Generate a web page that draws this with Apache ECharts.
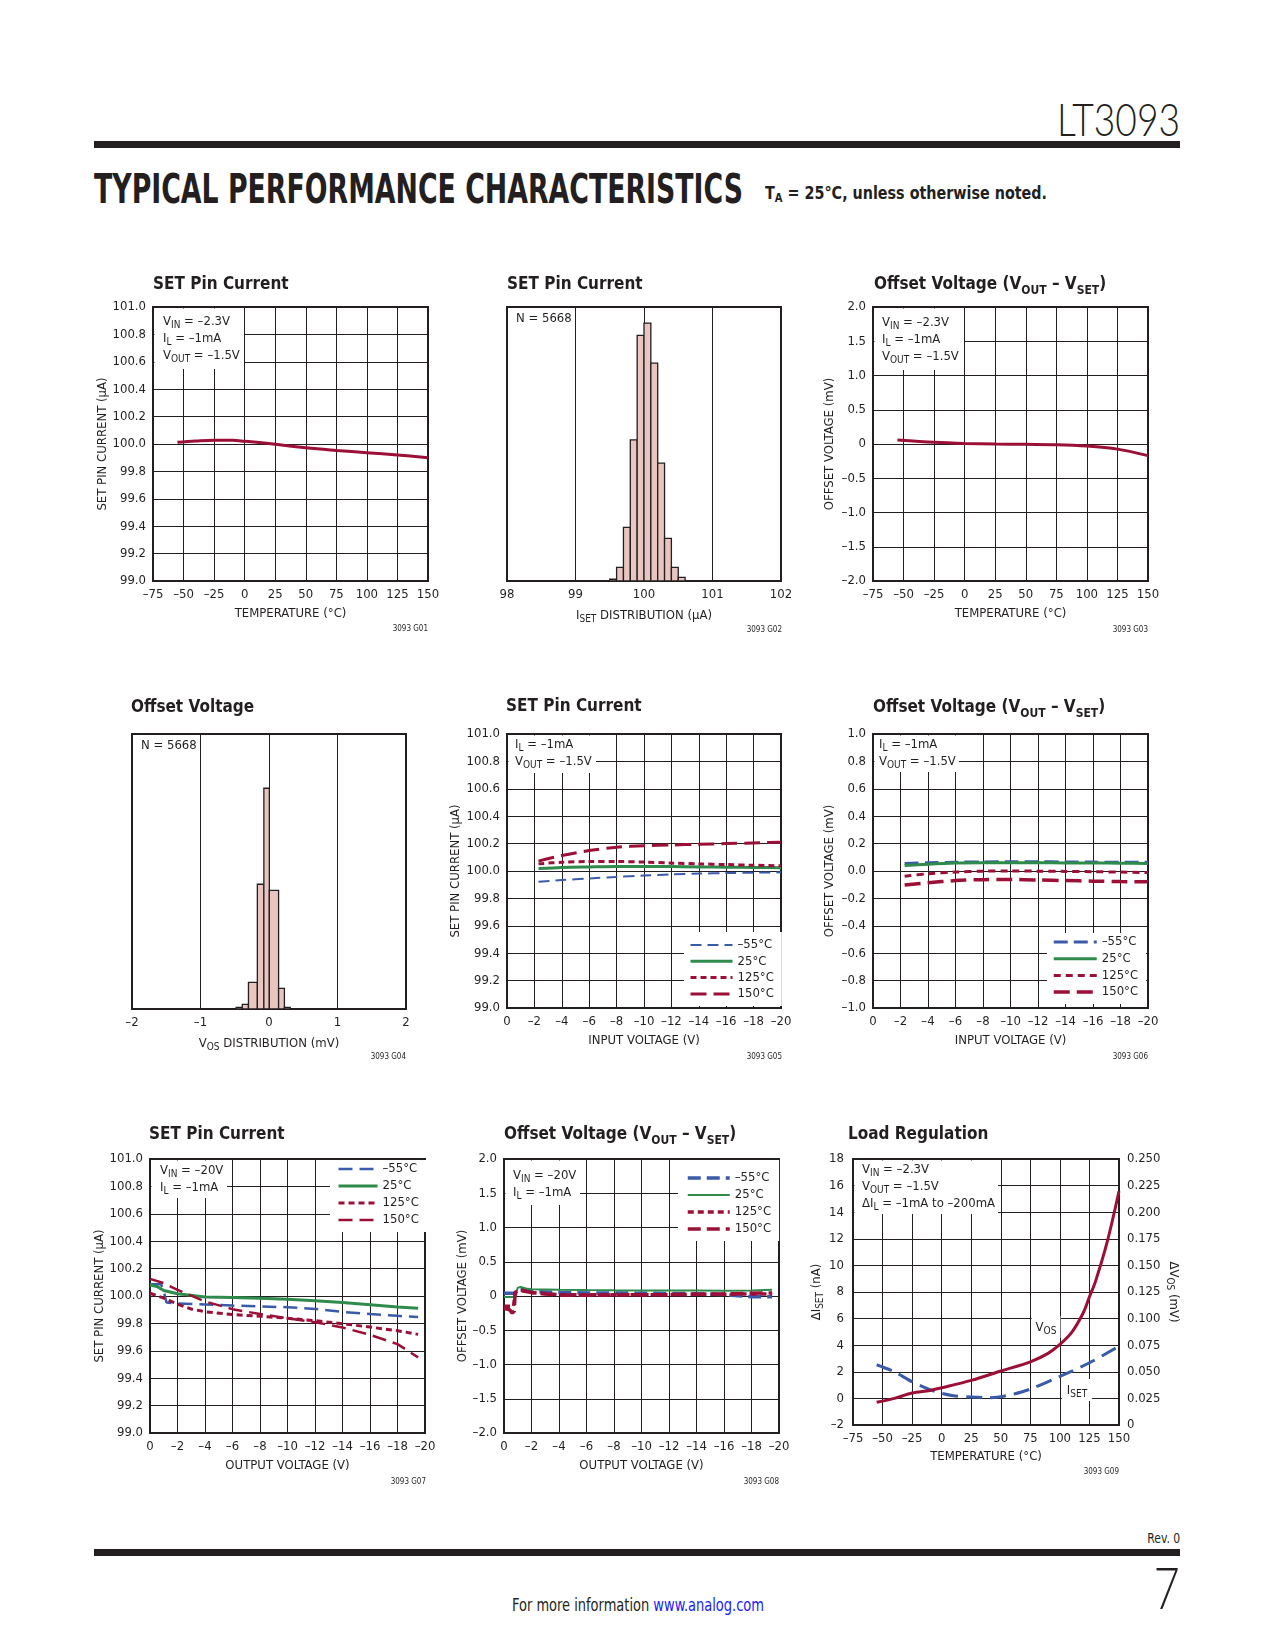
<!DOCTYPE html>
<html><head><meta charset="utf-8">
<script src="https://cdn.jsdelivr.net/npm/echarts@6/dist/echarts.min.js"></script>
<style>
html,body{margin:0;padding:0;background:#fff;}
#page{position:relative;width:1275px;height:1650px;overflow:hidden;background:#fff;}
#chart{position:absolute;left:0;top:0;width:1275px;height:1650px;}
.t{position:absolute;white-space:nowrap;color:#231f20;line-height:1;font-family:'Liberation Sans Narrow','DejaVu Sans Condensed','Liberation Sans',sans-serif;transform-origin:0 0;}
.r{transform-origin:100% 0;}
.thin{font-family:'Lato','Open Sans','Liberation Sans',sans-serif;font-weight:300;}
.bar{position:absolute;background:#231f20;}
sub{font-size:70%;vertical-align:-0.25em;line-height:0;}
</style></head>
<body><div id="page">
<div class="t r thin" style="right:95px;top:96px;font-size:46px;" data-w="123">LT3093</div>
<div class="bar" style="left:94px;top:141px;width:1086px;height:7px;"></div>
<div class="t" style="left:94px;top:169px;font-size:40px;font-weight:bold;font-family:'DejaVu Sans Condensed','DejaVu Sans',sans-serif;" data-w="649">TYPICAL PERFORMANCE CHARACTERISTICS</div>
<div class="t" style="left:765px;top:184px;font-size:18px;font-weight:bold;" data-w="282">T<sub>A</sub> = 25°C, unless otherwise noted.</div>
<div class="t r" style="right:95px;top:1531px;font-size:14px;" data-w="33">Rev. 0</div>
<div class="bar" style="left:94px;top:1549px;width:1086px;height:7px;"></div>
<div class="t r thin" style="right:95px;top:1558px;font-size:58px;" data-w="26">7</div>
<div class="t" style="left:512px;top:1597px;font-size:17px;" data-w="252">For more information <span style="color:#1a1aff">www.analog.com</span></div>
<div id="chart"></div>
</div>
<script>
// ================= DATA =================
// G01 SET pin current vs temperature
const g1Temp = [-55, -40, -25, -10, 0, 25, 50, 75, 100, 125, 150];
const g1Iset = [100.012, 100.022, 100.028, 100.027, 100.02, 99.998, 99.972, 99.953, 99.937, 99.92, 99.9];
// G02 ISET distribution histogram
const g2BinLo = [99.5, 99.6, 99.7, 99.8, 99.9, 100.0, 100.1, 100.2, 100.3, 100.4, 100.5];
const g2BinHi = [99.6, 99.7, 99.8, 99.9, 100.0, 100.1, 100.2, 100.3, 100.4, 100.5, 100.6];
const g2Count = [9, 70, 274, 721, 1255, 1318, 1113, 602, 218, 70, 19];
// G03 offset voltage vs temperature
const g3Temp = [-55, -25, 0, 25, 50, 75, 100, 125, 150];
const g3Vos = [0.06, 0.025, 0.008, 0.0, -0.005, -0.01, -0.03, -0.075, -0.17];
// G04 VOS distribution histogram
const g4BinLo = [-0.48, -0.39, -0.30, -0.17, -0.075, 0.005, 0.14, 0.225];
const g4BinHi = [-0.39, -0.30, -0.17, -0.075, 0.005, 0.14, 0.225, 0.31];
const g4Count = [18, 51, 291, 1361, 2408, 1295, 226, 18];
// G05 SET pin current vs input voltage
const g5Vin = [-2.3, -4, -6, -8, -10, -12, -14, -16, -18, -20];
const g5M55 = [99.921, 99.934, 99.945, 99.957, 99.967, 99.975, 99.981, 99.985, 99.988, 99.99];
const g5T25 = [100.018, 100.026, 100.03, 100.033, 100.033, 100.032, 100.03, 100.028, 100.026, 100.023];
const g5T125 = [100.052, 100.064, 100.069, 100.069, 100.065, 100.058, 100.052, 100.047, 100.042, 100.038];
const g5T150 = [100.072, 100.113, 100.149, 100.174, 100.184, 100.19, 100.195, 100.2, 100.205, 100.21];
// G06 offset voltage vs input voltage
const g6Vin = [-2.3, -4, -6, -8, -10, -12, -14, -16, -18, -20];
const g6M55 = [0.055, 0.06, 0.064, 0.066, 0.067, 0.067, 0.066, 0.065, 0.064, 0.064];
const g6T25 = [0.04, 0.05, 0.058, 0.06, 0.06, 0.06, 0.059, 0.058, 0.057, 0.055];
const g6T125 = [-0.038, -0.02, -0.008, -0.001, 0.0, -0.001, -0.003, -0.005, -0.008, -0.011];
const g6T150 = [-0.103, -0.086, -0.07, -0.063, -0.062, -0.066, -0.07, -0.074, -0.077, -0.079];
// G07 SET pin current vs output voltage
const g7VoutM55 = [0, -0.8, -1.0, -1.2, -2, -4, -6, -8, -10, -12, -14, -16, -18, -19.5];
const g7M55 = [100.086, 100.086, 100.033, 99.953, 99.945, 99.938, 99.93, 99.924, 99.918, 99.905, 99.884, 99.868, 99.855, 99.846];
const g7Vout25 = [0, -0.5, -1, -2, -4, -6, -8, -10, -12, -14, -16, -18, -19.5];
const g7T25 = [100.08, 100.07, 100.04, 100.016, 99.992, 99.989, 99.984, 99.977, 99.965, 99.953, 99.937, 99.92, 99.911];
const g7Vout125 = [0, -1, -2, -3, -4, -6, -8, -10, -12, -14, -16, -18, -19.5];
const g7T125 = [100.02, 99.985, 99.94, 99.905, 99.885, 99.865, 99.852, 99.838, 99.82, 99.798, 99.773, 99.747, 99.72];
const g7Vout150 = [0, -1, -2, -4, -6, -8, -10, -12, -14, -16, -18, -19.5];
const g7T150 = [100.125, 100.094, 100.045, 99.96, 99.904, 99.868, 99.838, 99.809, 99.77, 99.717, 99.649, 99.552];
// G08 offset voltage vs output voltage
const g8VoutM55 = [0, -0.8, -1.0, -1.2, -2, -4, -6, -8, -10, -12, -14, -16, -17, -18, -19.5];
const g8M55 = [0.04, 0.04, 0.1, 0.11, 0.065, 0.05, 0.045, 0.045, 0.04, 0.038, 0.033, 0.02, 0.005, -0.01, -0.01];
const g8Vout25 = [0, -0.8, -1.0, -1.2, -1.6, -2, -4, -6, -8, -10, -12, -14, -16, -18, -19.5];
const g8T25 = [-0.015, -0.015, 0.12, 0.13, 0.11, 0.1, 0.09, 0.086, 0.083, 0.082, 0.08, 0.079, 0.078, 0.082, 0.09];
const g8Vout125 = [0, -0.7, -0.8, -1.2, -2, -4, -6, -8, -10, -12, -14, -16, -18, -19.5];
const g8T125 = [-0.15, -0.15, 0.05, 0.09, 0.05, 0.02, 0.02, 0.02, 0.02, 0.02, 0.025, 0.025, 0.03, 0.03];
const g8Vout150 = [0, -0.4, -0.6, -0.75, -0.8, -1.2, -2, -4, -6, -8, -10, -12, -14, -16, -18, -19.5];
const g8T150 = [-0.18, -0.2, -0.25, -0.22, 0.03, 0.08, 0.05, 0.01, 0.01, 0.015, 0.02, 0.02, 0.025, 0.03, 0.04, 0.045];
// G09 load regulation
const g9TempIset = [-55, -40, -25, -10, 0, 10, 25, 40, 50, 60, 75, 100, 125, 150];
const g9Iset = [2.53, 2.0, 1.25, 0.65, 0.38, 0.2, 0.1, 0.05, 0.13, 0.3, 0.7, 1.65, 2.68, 3.93];
const g9TempVos = [-55, -40, -25, -10, 0, 25, 50, 75, 90, 100, 110, 120, 125, 130, 140, 150];
const g9Vos = [0.0213, 0.025, 0.03, 0.0325, 0.035, 0.0419, 0.0507, 0.0594, 0.0673, 0.0757, 0.087, 0.106, 0.1205, 0.1345, 0.172, 0.2197];
// legend labels
const tempLabels = ['\u201355°C', '25°C', '125°C', '150°C'];

// ================= STYLE =================
const FONT = "'Liberation Sans Narrow','DejaVu Sans Condensed','Liberation Sans',sans-serif";
const INK = '#231f20';
const RED = '#9c0f37', BLUE = '#3a5ba9', GREEN = '#2e8b4b', PINK = '#e8c5bf';
const LBL = 13, NAME = 13;
const RICH = {
  a: {fontSize: 13, fontFamily: FONT, color: INK, fill: INK, lineHeight: 17},
  s: {fontSize: 10, fontFamily: FONT, color: INK, fill: INK, lineHeight: 9, verticalAlign: 'bottom'}
};
const TRICH = {
  a: {fontSize: 17, fontFamily: FONT, fontWeight: 'bold', color: INK, lineHeight: 24},
  s: {fontSize: 12, fontFamily: FONT, fontWeight: 'bold', color: INK, lineHeight: 13, verticalAlign: 'bottom'}
};
const pts = (xs, ys) => xs.map((x, i) => [x, ys[i]]);
const sgn = (v, s) => (v < 0 ? '\u2013' : '') + s;
const fInt = v => Math.abs(v) < 1e-9 ? '0' : sgn(v, String(Math.round(Math.abs(v))));
const fFix = (d, zeroPlain) => v => Math.abs(v) < 1e-9 ? (zeroPlain ? '0' : (0).toFixed(d)) : sgn(v, Math.abs(v).toFixed(d));

function lbl(fmt, margin) {
  return {color: INK, fontFamily: FONT, fontSize: LBL, margin: margin || 7, formatter: fmt, showMinLabel: true, showMaxLabel: true, hideOverlap: false};
}
function ax(gridIndex, min, max, interval, fmt, name, nameGap, more) {
  return Object.assign({
    type: 'value', gridIndex, min, max, interval,
    axisLine: {show: false}, axisTick: {show: false},
    splitLine: {show: true, lineStyle: {color: INK, width: 1}},
    axisLabel: lbl(fmt),
    name, nameLocation: 'middle', nameGap,
    nameTextStyle: {color: INK, fontFamily: FONT, fontSize: NAME, rich: RICH}
  }, more || {});
}

const gridBase = {show: true, borderColor: INK, borderWidth: 2, backgroundColor: 'transparent'};
const grids = [
  {left: 153, top: 307, width: 275, height: 274},
  {left: 507, top: 307, width: 274, height: 274},
  {left: 873, top: 307, width: 275, height: 274},
  {left: 132, top: 734, width: 274, height: 275},
  {left: 507, top: 734, width: 274, height: 274},
  {left: 873, top: 734, width: 275, height: 274},
  {left: 150, top: 1159, width: 275, height: 274},
  {left: 504, top: 1159, width: 275, height: 274},
  {left: 853, top: 1159, width: 266, height: 266}
].map(g => Object.assign({}, gridBase, g));

const titles = [
  [153, 273, '{a|SET Pin Current}'],
  [507, 273, '{a|SET Pin Current}'],
  [874, 273, '{a|Offset Voltage (V}{s|OUT}{a| \u2013 V}{s|SET}{a|)}'],
  [131, 696, '{a|Offset Voltage}'],
  [506, 695, '{a|SET Pin Current}'],
  [873, 696, '{a|Offset Voltage (V}{s|OUT}{a| \u2013 V}{s|SET}{a|)}'],
  [149, 1123, '{a|SET Pin Current}'],
  [504, 1123, '{a|Offset Voltage (V}{s|OUT}{a| \u2013 V}{s|SET}{a|)}'],
  [848, 1123, '{a|Load Regulation}']
].map(t => ({left: t[0], top: t[1], padding: 0, text: t[2], textStyle: {rich: TRICH, fontSize: 17, fontFamily: FONT, fontWeight: 'bold', color: INK}}));

const xAxes = [
  ax(0, -75, 150, 25, fInt, 'TEMPERATURE (°C)', 26),
  ax(1, 98, 102, 1, fInt, '{a|I}{s|SET}{a| DISTRIBUTION (µA)}', 26),
  ax(2, -75, 150, 25, fInt, 'TEMPERATURE (°C)', 26),
  ax(3, -2, 2, 1, fInt, '{a|V}{s|OS}{a| DISTRIBUTION (mV)}', 26),
  ax(4, -20, 0, 2, fInt, 'INPUT VOLTAGE (V)', 26, {inverse: true}),
  ax(5, -20, 0, 2, fInt, 'INPUT VOLTAGE (V)', 26, {inverse: true}),
  ax(6, -20, 0, 2, fInt, 'OUTPUT VOLTAGE (V)', 26, {inverse: true}),
  ax(7, -20, 0, 2, fInt, 'OUTPUT VOLTAGE (V)', 26, {inverse: true}),
  ax(8, -75, 150, 25, fInt, 'TEMPERATURE (°C)', 25)
];
const yAxes = [
  ax(0, 99, 101, 0.2, fFix(1, false), 'SET PIN CURRENT (µA)', 44),
  {type: 'value', gridIndex: 1, min: 0, max: 1400, show: false},
  ax(2, -2, 2, 0.5, fFix(1, true), 'OFFSET VOLTAGE (mV)', 37),
  {type: 'value', gridIndex: 3, min: 0, max: 3000, show: false},
  ax(4, 99, 101, 0.2, fFix(1, false), 'SET PIN CURRENT (µA)', 45),
  ax(5, -1, 1, 0.2, fFix(1, false), 'OFFSET VOLTAGE (mV)', 37),
  ax(6, 99, 101, 0.2, fFix(1, false), 'SET PIN CURRENT (µA)', 40),
  ax(7, -2, 2, 0.5, fFix(1, true), 'OFFSET VOLTAGE (mV)', 34),
  ax(8, -2, 18, 2, fInt, '{a|\u0394I}{s|SET}{a| (nA)}', 28, {axisLabel: lbl(fInt, 9)}),
  ax(8, 0, 0.25, 0.025, fFix(3, true), '{a|\u0394V}{s|OS}{a| (mV)}', 46, {position: 'right', nameRotate: -90, splitLine: {show: false}, axisLabel: lbl(fFix(3, true), 8)})
];

function histRender(params, api) {
  const p0 = api.coord([api.value(0), api.value(2)]);
  const p1 = api.coord([api.value(1), 0]);
  return {type: 'rect', shape: {x: p0[0], y: p0[1], width: p1[0] - p0[0], height: p1[1] - p0[1]},
    style: {fill: PINK, stroke: INK, lineWidth: 1.3}};
}
function line(name, xi, yi, data, color, width, type, smooth) {
  return {type: 'line', name, xAxisIndex: xi, yAxisIndex: yi, data, symbol: 'none', showSymbol: false,
    smooth: smooth || false, z: 3, lineStyle: {color, width, type: type || 'solid'}, itemStyle: {color}};
}
const n = (g, i) => g + '|' + tempLabels[i];

const series = [
  line('G1', 0, 0, pts(g1Temp, g1Iset), RED, 3, 'solid', 0.4),
  {type: 'custom', xAxisIndex: 1, yAxisIndex: 1, renderItem: histRender, clip: false,
    encode: {x: [0, 1], y: 2}, data: g2BinLo.map((v, i) => [v, g2BinHi[i], g2Count[i]])},
  line('G3', 2, 2, pts(g3Temp, g3Vos), RED, 3, 'solid', 0.3),
  {type: 'custom', xAxisIndex: 3, yAxisIndex: 3, renderItem: histRender, clip: false,
    encode: {x: [0, 1], y: 2}, data: g4BinLo.map((v, i) => [v, g4BinHi[i], g4Count[i]])},
  line(n('g5', 0), 4, 4, pts(g5Vin, g5M55), BLUE, 2, [11, 6], 0.3),
  line(n('g5', 1), 4, 4, pts(g5Vin, g5T25), GREEN, 3, 'solid', 0.3),
  line(n('g5', 2), 4, 4, pts(g5Vin, g5T125), RED, 3, [6, 4], 0.3),
  line(n('g5', 3), 4, 4, pts(g5Vin, g5T150), RED, 3, [16, 7], 0.3),
  line(n('g6', 0), 5, 5, pts(g6Vin, g6M55), BLUE, 3, [14, 6], 0.3),
  line(n('g6', 1), 5, 5, pts(g6Vin, g6T25), GREEN, 3, 'solid', 0.3),
  line(n('g6', 2), 5, 5, pts(g6Vin, g6T125), RED, 3, [7, 5], 0.3),
  line(n('g6', 3), 5, 5, pts(g6Vin, g6T150), RED, 3.5, [16, 7], 0.3),
  line(n('g7', 0), 6, 6, pts(g7VoutM55, g7M55), BLUE, 2.5, [14, 7]),
  line(n('g7', 1), 6, 6, pts(g7Vout25, g7T25), GREEN, 3, 'solid'),
  line(n('g7', 2), 6, 6, pts(g7Vout125, g7T125), RED, 3, [6, 4]),
  line(n('g7', 3), 6, 6, pts(g7Vout150, g7T150), RED, 2.5, [14, 7]),
  line(n('g8', 0), 7, 7, pts(g8VoutM55, g8M55), BLUE, 3.5, [13, 6]),
  line(n('g8', 1), 7, 7, pts(g8Vout25, g8T25), GREEN, 2, 'solid'),
  line(n('g8', 2), 7, 7, pts(g8Vout125, g8T125), RED, 3.5, [6, 4]),
  line(n('g8', 3), 7, 7, pts(g8Vout150, g8T150), RED, 3.5, [13, 6]),
  line('G9 ISET', 8, 8, pts(g9TempIset, g9Iset), BLUE, 3, [16, 8], 0.3),
  line('G9 VOS', 8, 9, pts(g9TempVos, g9Vos), RED, 3, 'solid', 0.3)
];

function leg(g, left, top, padding, itemWidth, itemGap, textGap) {
  return {show: true, orient: 'vertical', left, top, padding, itemWidth, itemHeight: 16, itemGap, itemTextGap: textGap,
    backgroundColor: '#fff', selectedMode: false, z: 6,
    data: [0, 1, 2, 3].map(i => n(g, i)),
    formatter: nm => nm.split('|')[1],
    textStyle: {color: INK, fontFamily: FONT, fontSize: 13, lineHeight: 16},
    itemStyle: {opacity: 0, borderWidth: 0},
    lineStyle: {width: 'inherit'}};
}
const legends = [
  leg('g5', 684, 932, [5, 8, 4, 5], 42, 0.3, 7),
  leg('g6', 1047, 933, [1, 8, 4, 5], 43, 0.7, 7),
  leg('g7', 330, 1160, [1, 8, 4, 7], 39, 1, 7),
  leg('g8', 678, 1160, [10, 8, 4, 8], 42, 1, 10)
];

// annotation boxes: [boxX, boxY, boxW, boxH, textX, textY, text]
const annots = [
  [154.5, 308.5, 89.5, 60.5, 163, 313.5, '{a|V}{s|IN}{a| = \u20132.3V}\n{a|I}{s|L}{a| = \u20131mA}\n{a|V}{s|OUT}{a| = \u20131.5V}'],
  [874.5, 308.5, 89.5, 61.5, 882, 314.5, '{a|V}{s|IN}{a| = \u20132.3V}\n{a|I}{s|L}{a| = \u20131mA}\n{a|V}{s|OUT}{a| = \u20131.5V}'],
  [508.5, 735.5, 87.5, 37.5, 515, 736.5, '{a|I}{s|L}{a| = \u20131mA}\n{a|V}{s|OUT}{a| = \u20131.5V}'],
  [874.5, 735.5, 84.5, 36.5, 879, 736.5, '{a|I}{s|L}{a| = \u20131mA}\n{a|V}{s|OUT}{a| = \u20131.5V}'],
  [151.5, 1160.5, 75.5, 37.5, 160, 1162.5, '{a|V}{s|IN}{a| = \u201320V}\n{a|I}{s|L}{a| = \u20131mA}'],
  [505.5, 1160.5, 74.5, 44.5, 513, 1167.5, '{a|V}{s|IN}{a| = \u201320V}\n{a|I}{s|L}{a| = \u20131mA}'],
  [854.5, 1160.5, 143.5, 53.5, 862, 1161.5, '{a|V}{s|IN}{a| = \u20132.3V}\n{a|V}{s|OUT}{a| = \u20131.5V}\n{a|\u0394I}{s|L}{a| = \u20131mA to \u2013200mA}']
];
const graphics = [];
annots.forEach(a => {
  graphics.push({type: 'rect', z: 5, shape: {x: a[0], y: a[1], width: a[2], height: a[3]}, style: {fill: '#fff'}});
  graphics.push({type: 'text', z: 6, x: a[4], y: a[5], style: {text: a[6], rich: RICH, fill: INK, font: '13px ' + FONT, align: 'left', verticalAlign: 'top'}});
});
[[516, 312.5], [141, 739.5]].forEach(p => graphics.push({type: 'text', z: 6, x: p[0], y: p[1],
  style: {text: 'N = 5668', fill: INK, font: '13px ' + FONT, align: 'left', verticalAlign: 'top'}}));
[['3093 G01', 428, 629], ['3093 G02', 782, 630], ['3093 G03', 1148, 630], ['3093 G04', 406, 1057], ['3093 G05', 782, 1057],
 ['3093 G06', 1148, 1057], ['3093 G07', 426, 1482], ['3093 G08', 779, 1482], ['3093 G09', 1119, 1472]].forEach(c =>
  graphics.push({type: 'text', z: 6, x: c[1], y: c[2], style: {text: c[0], fill: INK, font: '8px ' + FONT, align: 'right', verticalAlign: 'middle'}}));
graphics.push({type: 'text', z: 6, x: 1046, y: 1327, style: {text: '{a|V}{s|OS}', rich: RICH, fill: INK, align: 'center', verticalAlign: 'middle', backgroundColor: '#fff', padding: [3, 4, 2, 4]}});
graphics.push({type: 'text', z: 6, x: 1077, y: 1390, style: {text: '{a|I}{s|SET}', rich: RICH, fill: INK, align: 'center', verticalAlign: 'middle', backgroundColor: '#fff', padding: [3, 5, 2, 5]}});

const chart = echarts.init(document.getElementById('chart'), null, {renderer: 'canvas'});
chart.setOption({
  animation: false,
  title: titles,
  grid: grids,
  xAxis: xAxes,
  yAxis: yAxes,
  legend: legends,
  series,
  graphic: {elements: graphics}
});

document.querySelectorAll('[data-w]').forEach(el => {
  const w = el.getBoundingClientRect().width;
  el.style.transform = 'scaleX(' + (parseFloat(el.dataset.w) / w) + ')';
});
</script>
</body></html>
